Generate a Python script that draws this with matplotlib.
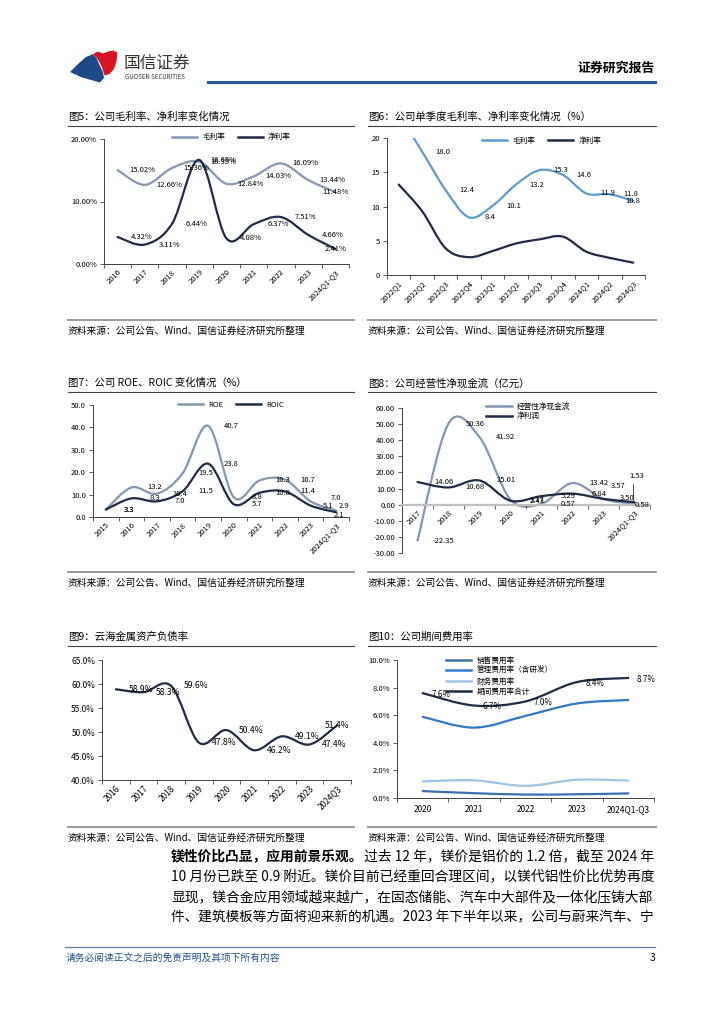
import numpy as np
import matplotlib
matplotlib.use('Agg')
import matplotlib.pyplot as plt
from matplotlib.path import Path
from matplotlib.patches import PathPatch, Polygon
from matplotlib.lines import Line2D

plt.rcParams['font.family'] = ['Noto Sans CJK SC', 'DejaVu Sans']
plt.rcParams['axes.unicode_minus'] = False

W, H = 724, 1024

# 图5 数据 ------------------------------------------
years_a = ['2016', '2017', '2018', '2019', '2020', '2021', '2022', '2023', '2024Q1-Q3']
gross_margin = [15.02, 12.66, 15.36, 16.35, 12.84, 14.03, 16.09, 13.44, 11.48]
net_margin = [4.32, 3.11, 6.44, 16.65, 4.08, 6.37, 7.51, 4.66, 2.41]

# 图6 数据 ------------------------------------------
quarters = ['2022Q1', '2022Q2', '2022Q3', '2022Q4', '2023Q1', '2023Q2',
            '2023Q3', '2023Q4', '2024Q1', '2024Q2', '2024Q3']
q_gross = [23.5, 18.0, 12.4, 8.4, 10.1, 13.2, 15.3, 14.6, 11.9, 11.8, 10.8]
q_net = [13.2, 9.3, 3.9, 2.6, 3.5, 4.6, 5.2, 5.6, 3.4, 2.5, 1.8]

# 图7 数据 ------------------------------------------
years_b = ['2015', '2016', '2017', '2018', '2019', '2020', '2021', '2022', '2023', '2024Q1-Q3']
roe = [3.3, 13.2, 10.4, 19.5, 40.7, 8.8, 16.3, 16.7, 7.0, 2.9]
roic = [3.3, 8.3, 7.0, 11.5, 23.8, 5.7, 10.8, 11.4, 5.1, 2.1]

# 图8 数据 ------------------------------------------
years_c = ['2017', '2018', '2019', '2020', '2021', '2022', '2023', '2024Q1-Q3']
op_cf = [-22.35, 50.36, 41.92, 3.17, 0.57, 13.42, 3.50, 0.58]
net_profit = [14.06, 10.68, 15.01, 2.43, 5.29, 6.84, 3.57, 1.53]

# 图9 数据 ------------------------------------------
years_d = ['2016', '2017', '2018', '2019', '2020', '2021', '2022', '2023', '2024Q3']
debt_ratio = [58.9, 58.3, 59.6, 47.8, 50.4, 46.2, 49.1, 47.4, 51.4]

# 图10 数据 -----------------------------------------
years_e = ['2020', '2021', '2022', '2023', '2024Q1-Q3']
sales_exp = [0.50, 0.35, 0.25, 0.27, 0.33]
admin_exp = [5.88, 5.10, 5.95, 6.85, 7.10]
fin_exp = [1.20, 1.28, 0.88, 1.32, 1.26]
total_exp = [7.6, 6.7, 7.0, 8.4, 8.7]

body_lines = [
    ('镁性价比凸显，应用前景乐观。', '过去 12 年，镁价是铝价的 1.2 倍，截至 2024 年'),
    ('', '10 月份已跌至 0.9 附近。镁价目前已经重回合理区间，以镁代铝性价比优势再度'),
    ('', '显现，镁合金应用领域越来越广，在固态储能、汽车中大部件及一体化压铸大部'),
    ('', '件、建筑模板等方面将迎来新的机遇。2023 年下半年以来，公司与蔚来汽车、宁'),
]
source_txt = '资料来源：公司公告、Wind、国信证券经济研究所整理'

GRAY_BLUE = '#8497B0'
NAVY = '#1F2B45'
SPINE = '#404040'

fig = plt.figure(figsize=(W / 100, H / 100), dpi=100)


def fx(x):
    return x / W


def fy(y):
    return 1 - y / H


def smooth_path(ys):
    # excel 式平滑线：用三次贝塞尔曲线段连接各数据点
    pts = list(zip(range(len(ys)), ys))
    n = len(pts)
    verts, codes = [pts[0]], [Path.MOVETO]
    for i in range(n - 1):
        p0 = pts[i - 1] if i > 0 else pts[i]
        p1, p2 = pts[i], pts[i + 1]
        p3 = pts[i + 2] if i + 2 < n else pts[i + 1]
        c1 = (p1[0] + (p2[0] - p0[0]) / 6, p1[1] + (p2[1] - p0[1]) / 6)
        c2 = (p2[0] - (p3[0] - p1[0]) / 6, p2[1] - (p3[1] - p1[1]) / 6)
        verts += [c1, c2, p2]
        codes += [Path.CURVE4] * 3
    return Path(verts, codes)


def smooth_line(ax, ys, color, lw=1.6):
    ax.add_patch(PathPatch(smooth_path(ys), fill=False, edgecolor=color, lw=lw,
                           capstyle='round', joinstyle='round'))


def make_axes(box, cats, ylim, yticks, yfmt, rot=45, fs=5.5, zero_axis=False):
    l, t, r, b = box
    ax = fig.add_axes([fx(l), fy(b), fx(r - l), (b - t) / H])
    for s in ['top', 'right']:
        ax.spines[s].set_visible(False)
    for s in ['left', 'bottom']:
        ax.spines[s].set_color(SPINE)
        ax.spines[s].set_linewidth(0.7)
    if zero_axis:
        # 横轴穿过 0 值（先设位置，否则会清掉刻度标签设置）
        ax.spines['bottom'].set_position(('data', 0))
        ax.spines['bottom'].set_color('#BFBFBF')
        ax.spines['bottom'].set_linewidth(1.6)
    ax.set_xlim(-0.5, len(cats) - 0.5)
    ax.set_ylim(*ylim)
    ax.set_yticks(yticks)
    ax.set_yticklabels([yfmt.format(v) for v in yticks])
    ax.set_xticks(range(len(cats)))
    if rot:
        ax.set_xticklabels(cats, rotation=rot, ha='right', va='top', rotation_mode='anchor')
    else:
        ax.set_xticklabels(cats)
    ax.set_xticks(np.arange(-0.5, len(cats)), minor=True)
    ax.tick_params(axis='x', which='major', length=0, pad=3, labelsize=fs)
    ax.tick_params(axis='x', which='minor', length=3, width=0.6, color=SPINE)
    ax.tick_params(axis='y', length=3, width=0.6, color=SPINE, labelsize=fs, pad=2)
    ax.patch.set_alpha(0)
    return ax


def point_labels(ax, vals, fmt, shift=0.9, skip=(), moves=None, fs=5.5):
    n = len(vals)
    moves = moves or {}
    for i, v in enumerate(vals):
        if i in skip:
            continue
        x, y = moves.get(i, (min(i + shift, n - 1), v))
        ax.text(x, y, fmt.format(v), fontsize=fs, ha='center', va='center', clip_on=False)


def add_legend(ax, items, fs=5.5, spacing=0.3, **kw):
    handles = [Line2D([], [], color=c, lw=1.8) for _, c in items]
    ax.legend(handles, [s for s, _ in items], frameon=False, fontsize=fs,
              handlelength=3.3, handletextpad=0.7, borderpad=0, borderaxespad=0,
              columnspacing=1.6, labelspacing=spacing, **kw)


def panel_frame(x1, x2, title, y_title, y_src_line):
    fig.text(fx(x1), fy(y_title), title, fontsize=7.5, ha='left', va='center')
    fig.add_artist(Line2D([fx(x1), fx(x2)], [fy(y_title + 8.5)] * 2, color=SPINE, lw=0.8))
    fig.add_artist(Line2D([fx(x1), fx(x2)], [fy(y_src_line)] * 2, color='#9A9A9A', lw=1.4))
    fig.text(fx(x1), fy(y_src_line + 10.5), source_txt, fontsize=7, ha='left', va='center')


# 页眉 >>>>>>>>>>>>>>>>>>>>>>>>>>>>>>>>>>>>>>>>>>>>>>>>>
blue_logo = [(70, 72), (78, 64), (86, 57), (93, 54), (96.5, 58), (99.5, 65), (103, 72),
             (104, 78), (100, 82.5), (93, 80.5), (82, 77.5)]
red_logo = [(93, 54), (98, 51.5), (103, 53.5), (108, 51.5), (113, 50.5), (117.5, 52.5),
            (116.5, 61), (114, 69), (109.5, 74), (104.5, 75.5), (103, 70), (100, 63), (96.5, 57.5)]
for pts, col in [(blue_logo, '#1D4A86'), (red_logo, '#D7141F')]:
    fig.add_artist(Polygon([(fx(x), fy(y)) for x, y in pts], closed=True,
                           facecolor=col, edgecolor='none', transform=fig.transFigure))
fig.text(fx(124), fy(63), '国信证券', fontsize=12, ha='left', va='center', color='#333333')
fig.text(fx(125), fy(77), 'GUOSEN SECURITIES', fontsize=4.4, ha='left', va='center', color='#333333')
fig.text(fx(655), fy(68), '证券研究报告', fontsize=9.3, fontweight='bold', ha='right', va='center')
fig.add_artist(Line2D([fx(208), fx(655)], [fy(81.5)] * 2, color='#2B5694', lw=2.2))

# 图5 >>>>>>>>>>>>>>>>>>>>>>>>>>>>>>>>>>>>>>>>>>>>>>>>>>
panel_frame(68, 354, '图5：公司毛利率、净利率变化情况', 117, 320)
ax5 = make_axes((104, 139, 349, 264), years_a, (0, 20), [0, 10, 20], '{:.2f}%')
smooth_line(ax5, gross_margin, GRAY_BLUE)
smooth_line(ax5, net_margin, NAVY)
point_labels(ax5, gross_margin, '{:.2f}%')
point_labels(ax5, net_margin, '{:.2f}%')
add_legend(ax5, [('毛利率', GRAY_BLUE), ('净利率', NAVY)], ncol=2,
           loc='upper center', bbox_to_anchor=(0.52, 1.045))

# 图6 >>>>>>>>>>>>>>>>>>>>>>>>>>>>>>>>>>>>>>>>>>>>>>>>>>
panel_frame(368, 656, '图6：公司单季度毛利率、净利率变化情况（%）', 117, 320)
ax6 = make_axes((387, 138, 645, 275), quarters, (0, 20), [0, 5, 10, 15, 20], '{:.0f}')
smooth_line(ax6, q_gross, '#5B9BD5')
smooth_line(ax6, q_net, NAVY)
point_labels(ax6, q_gross, '{:.1f}', skip=(0,))
add_legend(ax6, [('毛利率', '#5B9BD5'), ('净利率', NAVY)], ncol=2,
           loc='upper center', bbox_to_anchor=(0.6, 1.01))

# 图7 >>>>>>>>>>>>>>>>>>>>>>>>>>>>>>>>>>>>>>>>>>>>>>>>>>
panel_frame(68, 354, '图7：公司 ROE、ROIC 变化情况（%）', 383, 572)
ax7 = make_axes((93, 405, 349, 517), years_b, (0, 50), [0, 10, 20, 30, 40, 50], '{:.1f}')
smooth_line(ax7, roe, GRAY_BLUE)
smooth_line(ax7, roic, NAVY)
point_labels(ax7, roe, '{:.1f}', moves={8: (9.0, 8.4), 9: (9.3, 4.8)})
point_labels(ax7, roic, '{:.1f}', moves={8: (8.7, 4.8), 9: (9.1, 1.1)})
add_legend(ax7, [('ROE', GRAY_BLUE), ('ROIC', NAVY)], ncol=2,
           loc='upper center', bbox_to_anchor=(0.54, 1.04))

# 图8 >>>>>>>>>>>>>>>>>>>>>>>>>>>>>>>>>>>>>>>>>>>>>>>>>>
panel_frame(368, 656, '图8：公司经营性净现金流（亿元）', 383, 572)
ax8 = make_axes((402, 408, 650, 553), years_c, (-30, 60), list(range(-30, 61, 10)), '{:.2f}',
                zero_axis=True)
smooth_line(ax8, op_cf, GRAY_BLUE)
smooth_line(ax8, net_profit, NAVY)
point_labels(ax8, op_cf, '{:.2f}', shift=0.85, moves={6: (6.75, 4.1), 7: (7.23, -0.3)})
point_labels(ax8, net_profit, '{:.2f}', shift=0.85, moves={6: (6.48, 11.4), 7: (7.07, 17.6)})
ax8.plot([6.96, 6.96], [12.6, 2.0], color='#333333', lw=0.6, clip_on=False)
add_legend(ax8, [('经营性净现金流', GRAY_BLUE), ('净利润', NAVY)], spacing=0.2,
           loc='upper left', bbox_to_anchor=(0.34, 1.035))

# 图9 >>>>>>>>>>>>>>>>>>>>>>>>>>>>>>>>>>>>>>>>>>>>>>>>>>
panel_frame(68, 354, '图9：云海金属资产负债率', 637, 827)
ax9 = make_axes((102, 660, 351, 780), years_d, (40, 65), [40, 45, 50, 55, 60, 65], '{:.1f}%', fs=6)
smooth_line(ax9, debt_ratio, NAVY)
point_labels(ax9, debt_ratio, '{:.1f}%', fs=6.2)

# 图10 >>>>>>>>>>>>>>>>>>>>>>>>>>>>>>>>>>>>>>>>>>>>>>>>>
panel_frame(368, 656, '图10：公司期间费用率', 637, 827)
ax10 = make_axes((397, 660, 654, 798), years_e, (0, 10), [0, 2, 4, 6, 8, 10], '{:.1f}%', rot=0)
ax10.tick_params(axis='x', which='major', pad=5, labelsize=6)
exp_series = [('销售费用率', sales_exp, '#3A6FB0'),
              ('管理费用率（含研发）', admin_exp, '#2E78C9'),
              ('财务费用率', fin_exp, '#9DC3E6'),
              ('期间费用率合计', total_exp, NAVY)]
for _, vals, col in exp_series:
    smooth_line(ax10, vals, col)
for i, v in enumerate(total_exp):
    ax10.text(i + 0.35, v - 0.1, '{:.1f}%'.format(v), fontsize=5.8, ha='center', va='center', clip_on=False)
add_legend(ax10, [(s, c) for s, _, c in exp_series], spacing=0.33,
           loc='upper left', bbox_to_anchor=(0.19, 1.025))

# 正文：每行按宽度微调字号，模拟两端对齐 >>>>>>>>>>>>>>>>>>>
renderer = fig.canvas.get_renderer()
x0, x1 = 171, 655
for k, (bold, rest) in enumerate(body_lines):
    y = fy(856 + k * 20.6)
    parts = []
    if bold:
        parts.append(fig.text(fx(x0), y, bold, fontsize=9.6, fontweight='bold', ha='left', va='center'))
    parts.append(fig.text(fx(x0), y, rest, fontsize=9.6, ha='left', va='center'))
    total = sum(p.get_window_extent(renderer).width for p in parts)
    fs = min(10.0, 9.6 * (x1 - x0) / total)
    x = x0
    for p in parts:
        p.set_fontsize(fs)
        p.set_x(fx(x))
        x += p.get_window_extent(renderer).width

# 页脚 >>>>>>>>>>>>>>>>>>>>>>>>>>>>>>>>>>>>>>>>>>>>>>>>>>
fig.add_artist(Line2D([fx(65), fx(655)], [fy(947)] * 2, color='#5C80AA', lw=0.9))
fig.text(fx(66), fy(958), '请务必阅读正文之后的免责声明及其项下所有内容', fontsize=7,
         color='#1F4E89', ha='left', va='center')
fig.text(fx(655), fy(958), '3', fontsize=7.5, ha='right', va='center')

fig.savefig('out.png', dpi=100)
